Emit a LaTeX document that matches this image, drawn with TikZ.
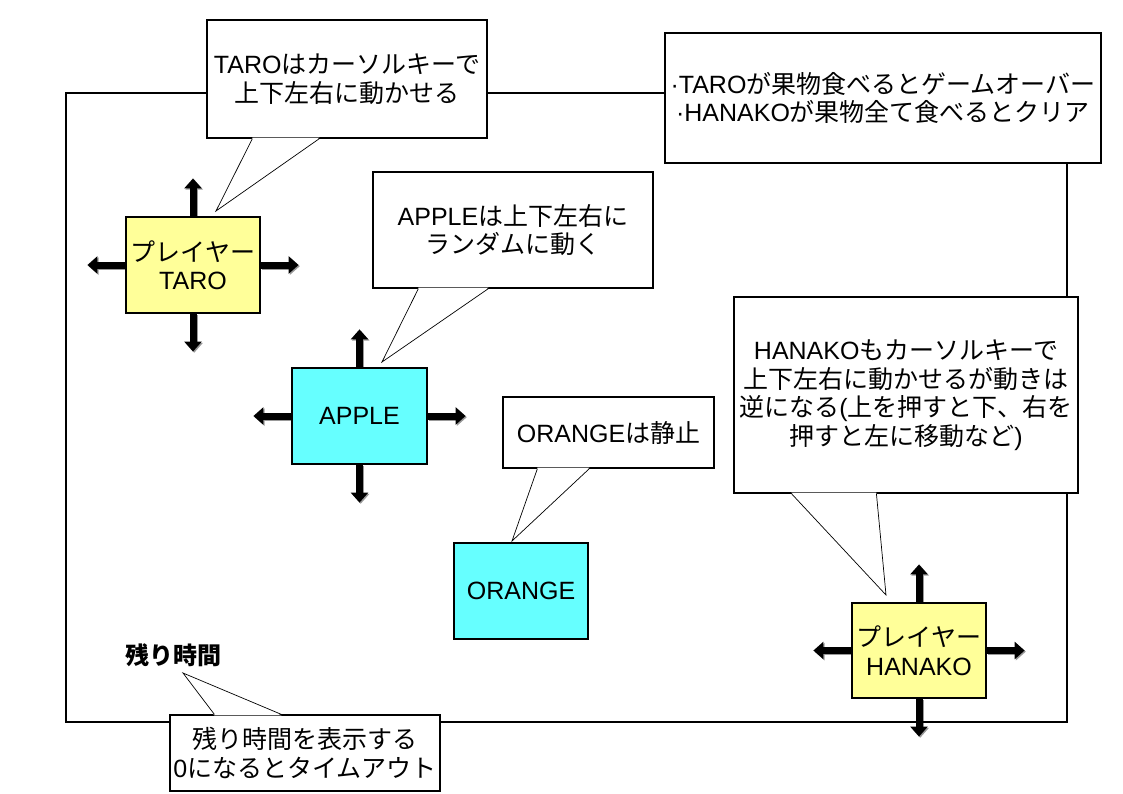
\documentclass[tikz,border=0pt]{standalone}
\usepackage{fontspec}
\setmainfont{Liberation Sans}
\newfontfamily\cjk{Noto Sans CJK JP}
\usetikzlibrary{arrows.meta}
\newcommand\J[1]{{\cjk #1}}
\definecolor{plyellow}{HTML}{FFFF99}
\definecolor{fruitcyan}{HTML}{66FFFF}
\pgfdeclarelayer{background}
\pgfsetlayers{background,main}
\tikzset{
  txt/.style={font=\fontsize{25}{28.5}\selectfont, align=center},
  bubble/.style={txt, draw, fill=white, line width=1.2pt, inner sep=0pt},
  tail/.style={line width=0.7pt},
  actor/.style={txt, draw, line width=1.2pt, inner sep=0pt, minimum width=134pt, minimum height=96pt},
  movearrow/.style={line width=7pt, -{Triangle[width=17pt,length=10pt]}},
  arrowshade/.style={movearrow, black!40},
}
% tail of a callout: node anchor, x offset 1, x offset 2, tip, inward shift
\newcommand\calltail[5]{%
  \fill[white] ([xshift=#2pt,yshift=#5pt]#1) -- (#4) -- ([xshift=#3pt,yshift=#5pt]#1) -- cycle;
  \draw[tail] ([xshift=#2pt]#1) -- (#4) -- ([xshift=#3pt]#1);
}
\newcommand\fourarrows[1]{%
  \begin{pgfonlayer}{background}
  \foreach \a/\dx/\dy in {north/0/-38, south/0/38, east/38/0, west/-38/0}{
    \draw[arrowshade] ([xshift=1.2pt,yshift=-1.2pt]#1.\a) -- ++(\dx,\dy);
  }
  \foreach \a/\dx/\dy in {north/0/-38, south/0/38, east/38/0, west/-38/0}{
    \draw[movearrow] (#1.\a) -- ++(\dx,\dy);
  }
  \end{pgfonlayer}
}
\begin{document}
\begin{tikzpicture}[x=1pt,y=-1pt]
\useasboundingbox (0,0) rectangle (1123,794);

% playing field
\node[draw, line width=1.2pt, minimum width=1001pt, minimum height=629pt, inner sep=0pt] (field) at (566.5,407.5) {};

% actors
\node[actor, fill=plyellow] (taro) at (193,265) {\J{プレイヤー}\\TARO};
\node[actor, fill=fruitcyan, minimum width=135pt] (apple) at (359.5,416) {APPLE};
\node[actor, fill=fruitcyan] (orange) at (521,591) {ORANGE};
\node[actor, fill=plyellow, minimum height=95pt] (hanako) at (919,650.5) {\J{プレイヤー}\\HANAKO};

\fourarrows{taro}
\fourarrows{apple}
\fourarrows{hanako}

% time label
\node[font=\fontsize{24}{28}\selectfont\bfseries, inner sep=0pt] (timelabel) at (173,655) {\J{残り時間}};

% tips of the callouts
\coordinate (tTaro) at (216,211);
\coordinate (tApple) at (382,362);
\coordinate (tOrange) at (512,541);
\coordinate (tHanako) at (886,595);
\coordinate (tTime) at (183,673);

% callouts
\node[bubble, minimum width=280pt, minimum height=118pt] (cTaro) at (347,79)
  {TARO\J{はカーソルキーで}\\\J{上下左右に動かせる}};
\calltail{cTaro.south west}{46}{113}{tTaro}{0.9}

\node[bubble, minimum width=436pt, minimum height=130pt] (cRules) at (883,98)
  {·TARO\J{が果物食べるとゲームオーバー}\\·HANAKO\J{が果物全て食べるとクリア}};

\node[bubble, minimum width=280pt, minimum height=116pt] (cApple) at (513,230)
  {APPLE\J{は上下左右に}\\\J{ランダムに動く}};
\calltail{cApple.south west}{46}{116}{tApple}{0.9}

\node[bubble, minimum width=211pt, minimum height=71pt] (cOrange) at (608.5,432.5)
  {ORANGE\J{は静止}};
\calltail{cOrange.south west}{35}{87}{tOrange}{0.9}

\node[bubble, minimum width=344pt, minimum height=196pt] (cHanako) at (906,395)
  {HANAKO\J{もカーソルキーで}\\\J{上下左右に動かせるが動きは}\\\J{逆になる}(\J{上を押すと下、右を}\\\J{押すと左に移動など})};
\calltail{cHanako.south west}{58}{143}{tHanako}{0.9}

\node[bubble, minimum width=270pt, minimum height=76pt] (cTime) at (305,753)
  {\J{残り時間を表示する}\\0\J{になるとタイムアウト}};
\calltail{cTime.north west}{45}{112}{tTime}{-0.9}

\end{tikzpicture}
\end{document}
